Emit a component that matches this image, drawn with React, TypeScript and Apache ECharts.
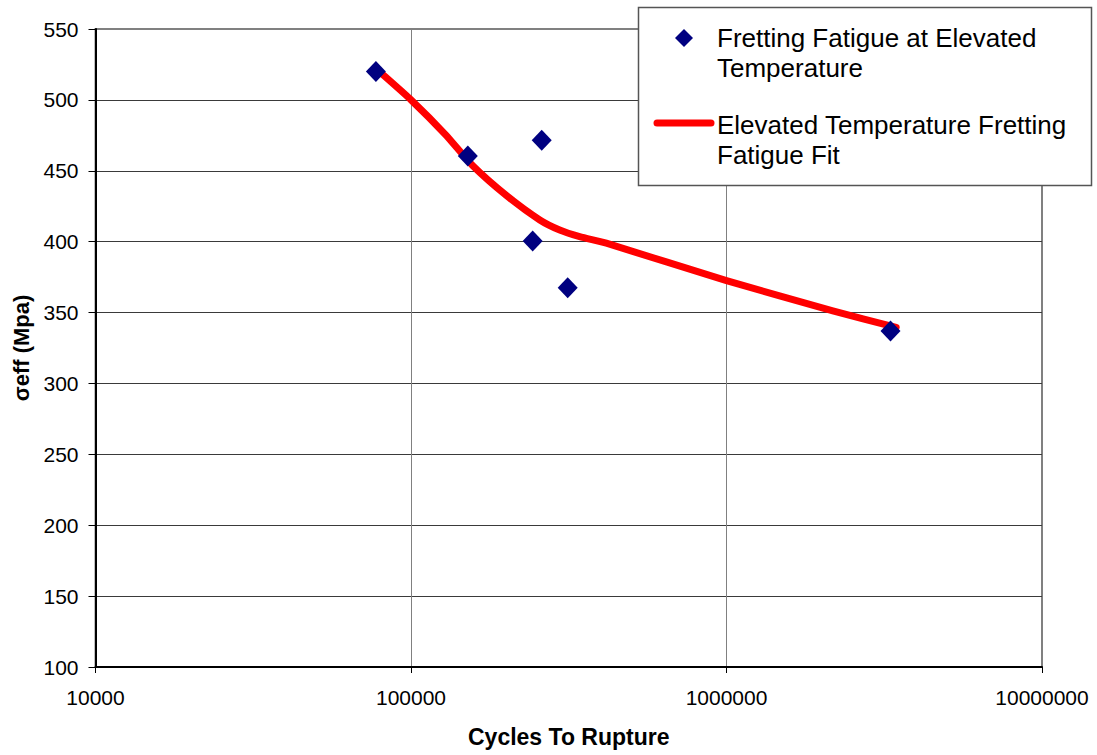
import React, { useEffect, useRef } from "react";
import * as echarts from "echarts";

// Measured data: cycles to rupture vs effective stress (MPa)
const testCycles = [77400, 151400, 259600, 243000, 313800, 3310000];
const testStress = [520, 460.5, 471.5, 400.5, 367.5, 337];

// Fit curve
const fitCycles = [79600, 100000, 128600, 157000, 200700, 256000, 296000, 342500, 416000, 1000000, 2173000, 3450000];
const fitStress = [519.7, 500, 475.5, 453.5, 432.5, 415.3, 408.2, 403.5, 398.9, 372.5, 351.2, 339.6];

const yTicks = { min: 100, max: 550, interval: 50 };
const xRange = { min: 10000, max: 10000000 };

const seriesNames = [
  "Fretting Fatigue at Elevated\nTemperature",
  "Elevated Temperature Fretting\nFatigue Fit",
];

const FONT = "'Liberation Sans', Arial, sans-serif";

export default function App() {
  const ref = useRef<HTMLDivElement>(null);

  useEffect(() => {
    if (!ref.current) return;
    const chart = echarts.init(ref.current, null, { renderer: "svg" });
    const scatterData = testCycles.map((c, i) => [c, testStress[i]]);
    const fitData = fitCycles.map((c, i) => [c, fitStress[i]]);

    const legendText = (text: string, y: number) => ({
      type: "text",
      z: 101,
      x: 717,
      y,
      style: {
        text,
        fontSize: 26,
        fontFamily: FONT,
        lineHeight: 30,
        fill: "#000",
        verticalAlign: "top",
        align: "left",
      },
    });

    chart.setOption({
      animation: false,
      backgroundColor: "#ffffff",
      textStyle: { fontFamily: FONT },
      grid: {
        left: 95.5,
        right: 55,
        top: 29,
        bottom: 88,
        show: true,
        borderColor: "#808080",
        borderWidth: 2,
        backgroundColor: "transparent",
      },
      xAxis: {
        type: "log",
        logBase: 10,
        min: xRange.min,
        max: xRange.max,
        name: "Cycles To Rupture",
        nameLocation: "middle",
        nameGap: 58,
        nameTextStyle: { fontFamily: FONT, fontSize: 23, fontWeight: "bold", color: "#000" },
        axisLine: { show: true, onZero: false, lineStyle: { color: "#000", width: 2 } },
        axisTick: { show: true, inside: false, length: 6, lineStyle: { color: "#000" } },
        axisLabel: {
          margin: 20,
          fontFamily: FONT,
          fontSize: 21,
          color: "#000",
          formatter: (v: number) => String(Math.round(v)),
        },
        splitLine: {
          show: true,
          showMinLine: false,
          showMaxLine: false,
          lineStyle: { color: "#808080", width: 1 },
        },
        minorTick: { show: false },
      },
      yAxis: {
        type: "value",
        min: yTicks.min,
        max: yTicks.max,
        interval: yTicks.interval,
        name: "σeff (Mpa)",
        nameLocation: "middle",
        nameGap: 62,
        nameRotate: 90,
        nameTextStyle: { fontFamily: FONT, fontSize: 22, fontWeight: "bold", color: "#000" },
        axisLine: { show: true, onZero: false, lineStyle: { color: "#000", width: 2 } },
        axisTick: { show: true, inside: false, length: 7, lineStyle: { color: "#000" } },
        axisLabel: { margin: 17, fontFamily: FONT, fontSize: 21, color: "#000" },
        splitLine: {
          show: true,
          showMinLine: false,
          showMaxLine: false,
          lineStyle: { color: "#3a3a3a", width: 1 },
        },
      },
      series: [
        {
          name: seriesNames[1],
          type: "line",
          data: fitData,
          smooth: 0.2,
          symbol: "none",
          z: 2,
          lineStyle: { color: "#ff0000", width: 7, cap: "round", join: "round" },
        },
        {
          name: seriesNames[0],
          type: "scatter",
          data: scatterData,
          symbol: "diamond",
          symbolSize: [20, 21],
          z: 3,
          itemStyle: { color: "#000080", opacity: 1 },
        },
      ],
      graphic: [
        {
          type: "rect",
          z: 100,
          shape: { x: 638.5, y: 7.5, width: 453, height: 178 },
          style: { fill: "#ffffff", stroke: "#555555", lineWidth: 1.5 },
        },
        {
          type: "polygon",
          z: 101,
          shape: { points: [[684, 29], [693, 38], [684, 47], [675, 38]] },
          style: { fill: "#000080" },
        },
        legendText(seriesNames[0], 22.5),
        {
          type: "line",
          z: 101,
          shape: { x1: 657, y1: 123, x2: 711, y2: 123 },
          style: { stroke: "#ff0000", lineWidth: 7, lineCap: "round" },
        },
        legendText(seriesNames[1], 110),
      ],
    });

    return () => chart.dispose();
  }, []);

  return (
    <div
      ref={ref}
      style={{ position: "fixed", left: 0, top: 0, width: 1097, height: 755, background: "#fff" }}
    />
  );
}
